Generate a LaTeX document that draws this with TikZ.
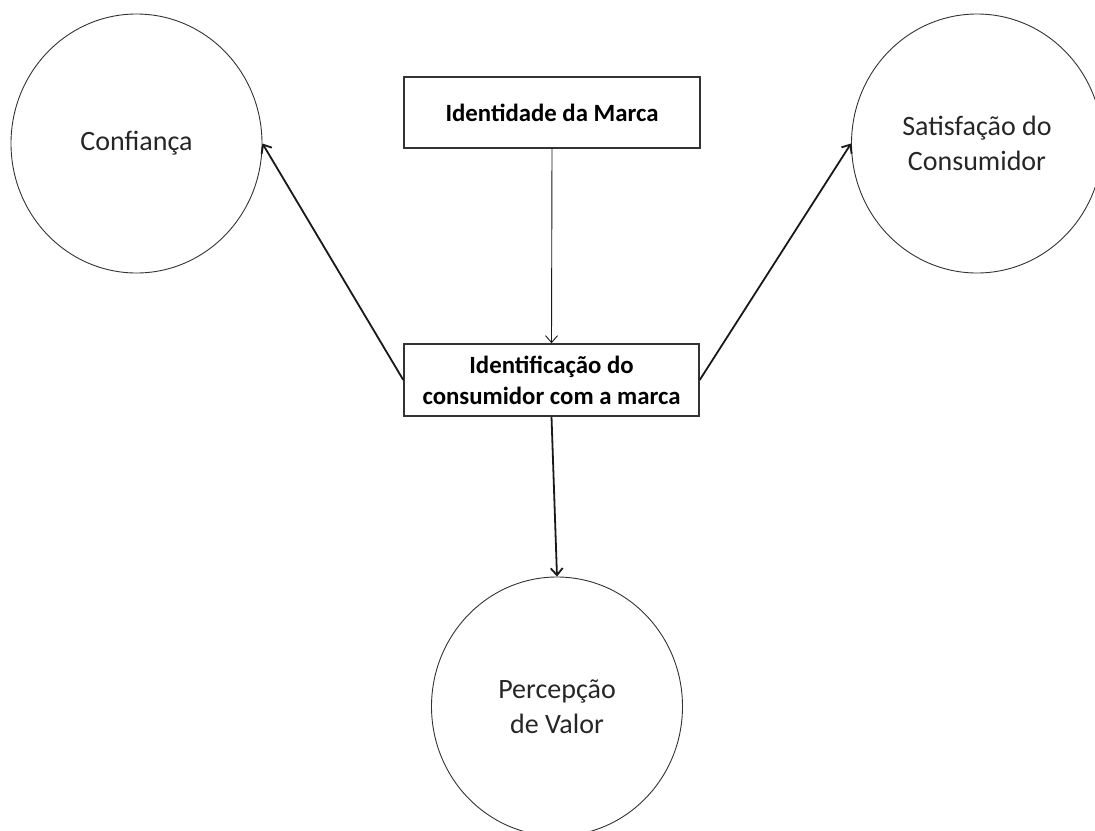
\documentclass[tikz,border=0pt]{standalone}
\usepackage{fontspec}
\setmainfont{Carlito}
\usetikzlibrary{shapes.geometric,arrows.meta}
\begin{document}
\begin{tikzpicture}[x=1pt,y=-1pt,
  concept/.style={draw=black!80, line width=0.9pt, ellipse, inner sep=0pt,
    minimum width=251pt, minimum height=259pt, align=center,
    font=\fontsize{28}{35}\selectfont, text=black!85},
  fact/.style={draw=black!80, line width=1.4pt, rectangle, inner sep=0pt,
    align=center, font=\bfseries\fontsize{24.8}{31}\selectfont},
  thinarrow/.style={line width=0.9pt, draw=black!90, -{Straight Barb[length=7pt,width=12pt]}},
  thickarrow/.style={line width=1.8pt, draw=black!90, -{Straight Barb[length=7pt,width=12pt]}}]
\useasboundingbox (0,0) rectangle (1095,830);
\node[concept] (conf) at (136.5,143.5) {Confiança};
\node[concept] (sat) at (977,143.5) {Satisfação do\\Consumidor};
\node[concept] (perc) at (557,706.5) {Percepção\\de Valor};
\node[fact, minimum width=296pt, minimum height=71pt] (ident) at (552,112.5) {Identidade da Marca};
\node[fact, minimum width=295pt, minimum height=72pt] (consum) at (551.5,380) {Identificação do\\consumidor com a marca};
\draw[thinarrow] (ident.south) -- (consum.north);
\draw[thickarrow] (consum.west) -- (conf.east);
\draw[thickarrow] (consum.east) -- (sat.west);
\draw[thickarrow] (consum.south) -- (perc.north);
\end{tikzpicture}
\end{document}
